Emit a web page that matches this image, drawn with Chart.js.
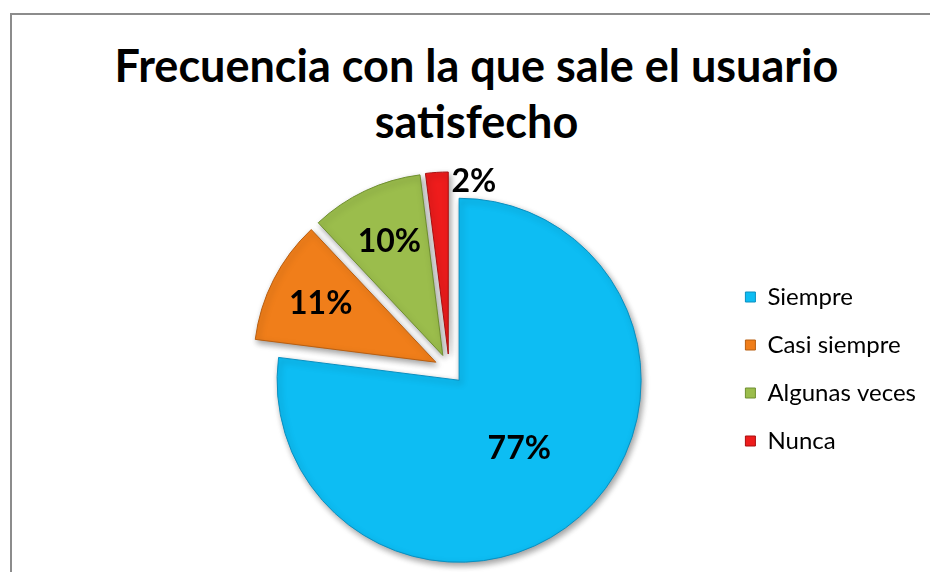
<!DOCTYPE html>
<html>
<head>
<meta charset="utf-8">
<script src="https://cdn.jsdelivr.net/npm/chart.js@4.4.1/dist/chart.umd.min.js"></script>
<style>
  html, body { margin: 0; padding: 0; width: 930px; height: 572px; overflow: hidden; background: #fff; }
  .frame { position: absolute; left: 10px; top: 13px; width: 960px; height: 600px;
           border-left: 2px solid #8c8c8c; border-top: 2px solid #8c8c8c; }
  .title { position: absolute; left: 10px; top: 37px; width: 933px; text-align: center;
           font-family: Lato, sans-serif; font-weight: 700; font-size: 45px; line-height: 56px; color: #000; }
  #chart { position: absolute; left: 0; top: 0; }
</style>
</head>
<body>
<div class="frame"></div>
<div class="title">Frecuencia con la que sale el usuario<br>satisfecho</div>
<canvas id="chart" width="930" height="572"></canvas>
<script>
// Chart data
const categories = ['Siempre', 'Casi siempre', 'Algunas veces', 'Nunca'];
const percentages = [77, 11, 10, 2];
const sliceColors = ['#0dbdf3', '#f07e1a', '#9bbd4c', '#ee1c1c'];
const edgeColors = ['#0a8fc0', '#b85e10', '#6f8f30', '#a80f0f'];

// Pulls every slice away from the centre (Excel style "exploded" pie)
const explodePlugin = {
  id: 'explode',
  afterDatasetUpdate(chart, args, opts) {
    const meta = chart.getDatasetMeta(args.index);
    meta.data.forEach((arc) => {
      const mid = (arc.startAngle + arc.endAngle) / 2;
      arc.x += Math.cos(mid) * opts.distance;
      arc.y += Math.sin(mid) * opts.distance;
    });
  }
};

// Soft drop shadow under the slices
const shadowPlugin = {
  id: 'sliceShadow',
  beforeDatasetsDraw(chart) {
    const ctx = chart.ctx;
    ctx.save();
    ctx.shadowColor = 'rgba(0, 0, 0, 0.38)';
    ctx.shadowBlur = 6;
    ctx.shadowOffsetX = 2;
    ctx.shadowOffsetY = 3;
  },
  afterDatasetsDraw(chart) {
    chart.ctx.restore();
  }
};

// Percentage labels on (or next to) each slice
const pctLabelsPlugin = {
  id: 'pctLabels',
  afterDatasetsDraw(chart, args, opts) {
    const ctx = chart.ctx;
    const meta = chart.getDatasetMeta(0);
    ctx.save();
    ctx.font = opts.font;
    ctx.fillStyle = opts.color;
    ctx.textBaseline = 'middle';
    meta.data.forEach((arc, i) => {
      const mid = (arc.startAngle + arc.endAngle) / 2;
      const f = opts.radius[i];
      let x = arc.x + Math.cos(mid) * arc.outerRadius * f;
      const y = arc.y + Math.sin(mid) * arc.outerRadius * f;
      if (f > 0.9) {
        ctx.textAlign = 'left';
        x += opts.outsideGap;
      } else {
        ctx.textAlign = 'center';
      }
      ctx.fillText(percentages[i] + '%', x, y);
    });
    ctx.restore();
  }
};

new Chart(document.getElementById('chart'), {
  type: 'pie',
  data: {
    labels: categories,
    datasets: [{
      data: percentages,
      backgroundColor: sliceColors,
      borderColor: edgeColors,
      borderWidth: 1,
      radius: 182,
      clip: false
    }]
  },
  options: {
    responsive: false,
    devicePixelRatio: 1,
    animation: false,
    layout: {
      padding: { left: 177, right: 4, top: 166, bottom: 0 }
    },
    plugins: {
      explode: { distance: 15 },
      pctLabels: {
        font: 'bold 32px Lato, sans-serif',
        color: '#000',
        radius: [0.5, 0.71, 0.69, 0.95],
        outsideGap: 14
      },
      legend: {
        position: 'right',
        align: 'center',
        labels: {
          boxWidth: 10,
          boxHeight: 10,
          padding: 24,
          color: '#000',
          font: { family: 'Lato, sans-serif', size: 24 }
        }
      },
      tooltip: { enabled: false },
      title: { display: false }
    }
  },
  plugins: [explodePlugin, shadowPlugin, pctLabelsPlugin]
});
</script>
</body>
</html>
